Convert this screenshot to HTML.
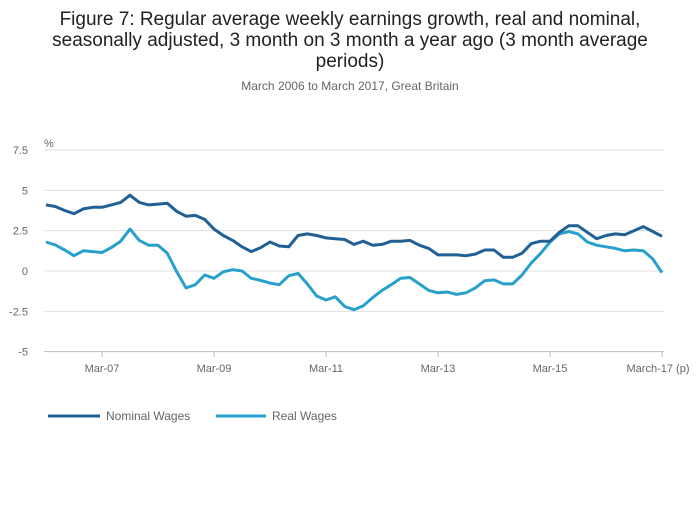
<!DOCTYPE html>
<html><head><meta charset="utf-8"><style>
body{margin:0;background:#fff;font-family:"Liberation Sans",sans-serif;}
svg text{font-family:"Liberation Sans",sans-serif;}
</style></head><body>
<svg id="c" width="700" height="502" viewBox="0 0 700 502">
<text x="350" y="25" text-anchor="middle" font-size="19" fill="#222">Figure 7: Regular average weekly earnings growth, real and nominal,</text>
<text x="350" y="46" text-anchor="middle" font-size="19" fill="#222">seasonally adjusted, 3 month on 3 month a year ago (3 month average</text>
<text x="350" y="67" text-anchor="middle" font-size="19" fill="#222">periods)</text>
<text x="350" y="90" text-anchor="middle" font-size="12" fill="#666">March 2006 to March 2017, Great Britain</text>
<text x="44" y="147" font-size="11" fill="#666">%</text>
<g id="grid"></g><g id="xax"></g><g id="lines"></g>
<g>
<line x1="48" y1="416" x2="100" y2="416" stroke="#206095" stroke-width="3"/>
<text x="106" y="420" font-size="12" fill="#666">Nominal Wages</text>
<line x1="216" y1="416" x2="266" y2="416" stroke="#27a0cc" stroke-width="3"/>
<text x="272" y="420" font-size="12" fill="#666">Real Wages</text>
</g>
</svg>
<script>
const months=[0,2,4,6,8,10,12,14,16,18,20,22,24,26,28,30,32,34,36,38,40,42,44,46,48,50,52,54,56,58,60,62,64,66,68,70,72,74,76,78,80,82,84,86,88,90,92,94,96,98,100,102,104,106,108,110,112,114,116,118,120,122,124,126,128,130,132];
const nominal=[4.1,4.0,3.75,3.55,3.85,3.95,3.95,4.1,4.25,4.7,4.25,4.1,4.15,4.2,3.7,3.4,3.45,3.2,2.6,2.2,1.9,1.5,1.2,1.45,1.8,1.55,1.5,2.2,2.3,2.2,2.05,2.0,1.95,1.65,1.85,1.6,1.65,1.85,1.85,1.9,1.6,1.4,1.0,1.0,1.0,0.95,1.05,1.3,1.3,0.85,0.85,1.1,1.7,1.85,1.85,2.4,2.8,2.8,2.4,2.0,2.2,2.3,2.25,2.5,2.75,2.45,2.15];
const real=[1.8,1.62,1.3,0.95,1.25,1.2,1.15,1.45,1.85,2.6,1.9,1.6,1.6,1.1,-0.05,-1.05,-0.85,-0.25,-0.45,-0.05,0.08,0.0,-0.45,-0.58,-0.75,-0.85,-0.3,-0.15,-0.8,-1.55,-1.8,-1.6,-2.2,-2.4,-2.15,-1.65,-1.2,-0.85,-0.45,-0.4,-0.8,-1.2,-1.35,-1.3,-1.45,-1.35,-1.05,-0.6,-0.55,-0.8,-0.8,-0.25,0.5,1.1,1.8,2.3,2.45,2.3,1.8,1.6,1.5,1.4,1.25,1.3,1.25,0.75,-0.1];
const yTicks=[7.5,5,2.5,0,-2.5,-5];
const yTickLabels=["7.5","5","2.5","0","-2.5","-5"];
const xTickMonths=[12,36,60,84,108,132];
const xTickLabels=["Mar-07","Mar-09","Mar-11","Mar-13","Mar-15","March-17 (p)"];
const NS="http://www.w3.org/2000/svg";
const X0=46,X1=662,Y0=271,PU=16.13;
const x=m=>X0+(X1-X0)*m/132;
const y=v=>Y0-v*PU;
function mk(t,a,p){const e=document.createElementNS(NS,t);for(const k in a)e.setAttribute(k,a[k]);p.appendChild(e);return e;}
const grid=document.getElementById('grid');
yTicks.forEach((v,i)=>{
 const l=mk('line',{x1:44,x2:664,y1:y(v),y2:y(v),stroke:v===-5?'#bbb':'#e0e0e0','stroke-width':1},grid);
 
 
 const t=mk('text',{x:28,y:y(v)+4,'text-anchor':'end','font-size':11,fill:'#666'},grid);
 t.textContent=yTickLabels[i];
 
 
});
const xax=document.getElementById('xax');
xTickMonths.forEach((m,i)=>{
 const l=mk('line',{x1:x(m),x2:x(m),y1:y(-5),y2:y(-5)+5,stroke:'#bbb'},xax);
 
 
 const t=mk('text',{x:x(m)+(i===5?-4:0),y:372,'text-anchor':'middle','font-size':11,fill:'#666'},xax);
 t.textContent=xTickLabels[i];
 
 
});
const lines=document.getElementById('lines');
function draw(vals,col,name){
 const d=vals.map((v,i)=>(i?'L':'M')+x(months[i]).toFixed(1)+' '+y(v).toFixed(1)).join(' ');
 const p=mk('path',{d:d,fill:'none',stroke:col,'stroke-width':3,'stroke-linejoin':'round'},lines);
 
 
}
draw(real,'#27a0cc','real-wages-line');
draw(nominal,'#206095','nominal-wages-line');
</script>
</body></html>
